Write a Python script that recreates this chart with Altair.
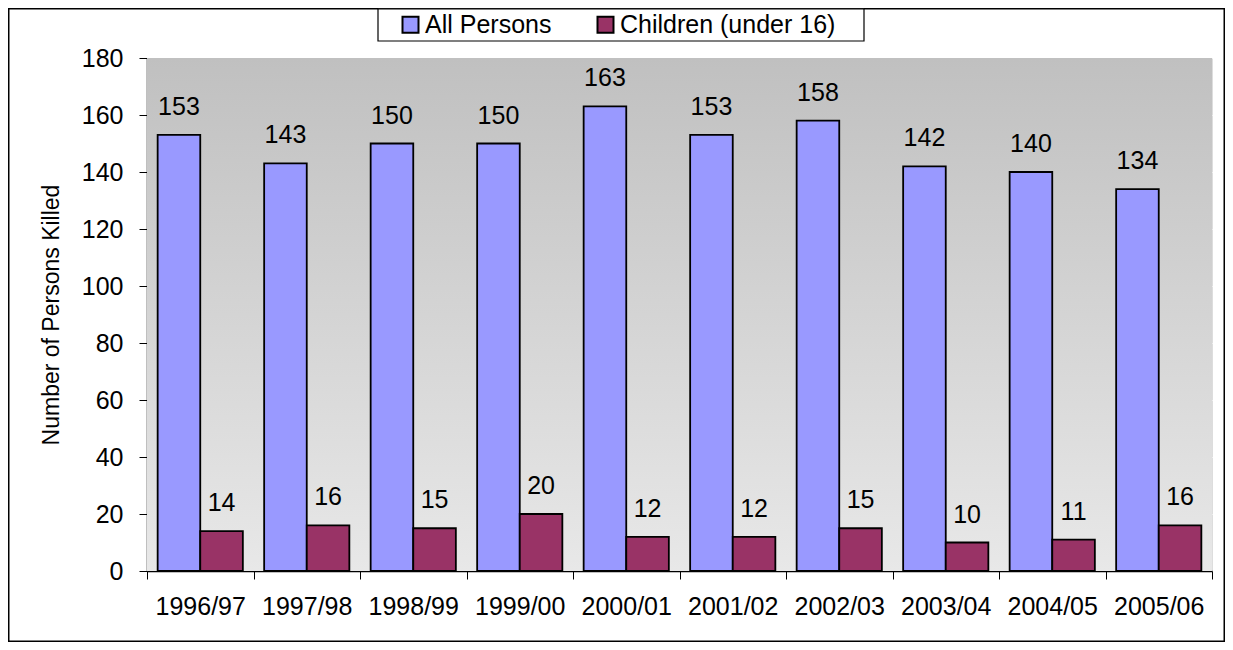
import altair as alt
import pandas as pd

years = ["1996/97", "1997/98", "1998/99", "1999/00", "2000/01",
         "2001/02", "2002/03", "2003/04", "2004/05", "2005/06"]
all_persons = [153, 143, 150, 150, 163, 153, 158, 142, 140, 134]
children = [14, 16, 15, 20, 12, 12, 15, 10, 11, 16]
series = ["All Persons", "Children (under 16)"]
colors = ["#9999FF", "#993366"]

rows = []
for y, a, c in zip(years, all_persons, children):
    rows.append({"year": y, "series": series[0], "value": a})
    rows.append({"year": y, "series": series[1], "value": c})
df = pd.DataFrame(rows)

W, H = 1065, 513
FONT = "Liberation Sans, Arial, sans-serif"
FS = 25

xenc = alt.X("year:N", sort=years, title=None, scale=alt.Scale(paddingInner=0, paddingOuter=0),
             axis=alt.Axis(labelAngle=0, labelFontSize=FS, labelFont=FONT, labelColor="black",
                           tickBand="extent", tickSize=8, tickColor="black", domainColor="black",
                           domainWidth=1.5, labelPadding=15, grid=False))
yscale = alt.Scale(domain=[0, 180], nice=False)
yenc = alt.Y("value:Q", scale=yscale, title="Number of Persons Killed",
             axis=alt.Axis(values=list(range(0, 181, 20)), labelFontSize=FS, labelFont=FONT,
                           labelColor="black", tickSize=8, tickColor="black", domainColor="black",
                           domainWidth=1.5, labelPadding=16, titleFontSize=23, titleFont=FONT,
                           titleFontWeight="normal", titleColor="black", titlePadding=18,
                           grid=True, gridColor="white", gridWidth=1))
offs = alt.XOffset("series:N", sort=series, scale=alt.Scale(paddingOuter=0.25, paddingInner=0))

one = pd.DataFrame({"a": [0]})
bg = alt.Chart(one).mark_rect(
    fill=alt.Gradient(gradient="linear", x1=0, y1=0, x2=0, y2=1,
                      stops=[alt.GradientStop(color="#c0c0c0", offset=0),
                             alt.GradientStop(color="#e8e8e8", offset=1)])
).encode(x=alt.value(0), x2=alt.value(W), y=alt.value(0), y2=alt.value(H))

frame = alt.Chart(one).mark_rect(
    fill=None, stroke="black", strokeWidth=1.5, clip=False
).encode(x=alt.value(-138.25), x2=alt.value(1077.25), y=alt.value(-49.25), y2=alt.value(583.25))

legend_box = alt.Chart(one).mark_rect(
    fill="white", stroke="black", strokeWidth=1.2, clip=False
).encode(x=alt.value(231), x2=alt.value(717), y=alt.value(-49.2), y2=alt.value(-17))

base = alt.Chart(df)
bars = base.mark_bar(stroke="black", strokeWidth=1.8).encode(
    x=xenc,
    xOffset=offs,
    y=yenc,
    color=alt.Color("series:N", sort=series, scale=alt.Scale(domain=series, range=colors),
                    legend=alt.Legend(title=None, orient="none", direction="horizontal",
                                      legendX=251, legendY=-46, labelFontSize=FS, labelFont=FONT,
                                      labelColor="black", symbolType="square", symbolSize=256,
                                      symbolStrokeColor="black", symbolStrokeWidth=2,
                                      padding=0, labelLimit=400, columnPadding=41,
                                      labelOffset=2)),
)
labels = base.mark_text(fontSize=FS, font=FONT, color="black", baseline="alphabetic", dy=-20).encode(
    x=alt.X("year:N", sort=years),
    xOffset=offs,
    y=alt.Y("value:Q", scale=yscale),
    text="value:Q",
)

chart = alt.layer(frame, legend_box, bg, bars, labels).properties(
    width=W, height=H,
    padding={"left": 139, "top": 50, "right": 13, "bottom": 71},
    autosize=alt.AutoSizeParams(type="none"),
).configure_view(stroke="#808080", strokeWidth=1.5).configure(background="white")

chart.save("out.html", embed_options={"renderer": "svg", "actions": False})
